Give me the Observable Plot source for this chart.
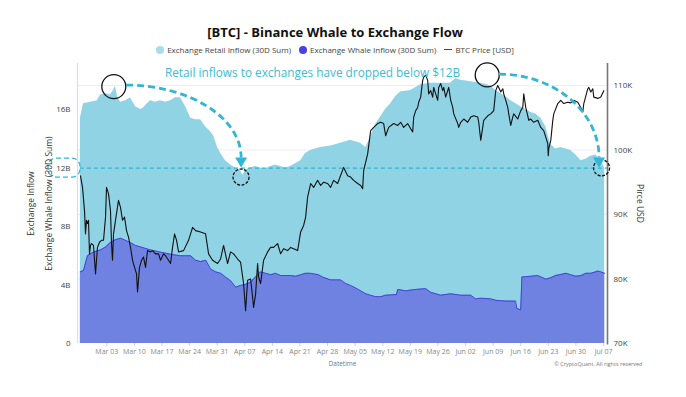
<!DOCTYPE html>
<html>
<head>
<meta charset="utf-8">
<script src="https://cdn.jsdelivr.net/npm/d3@7"></script>
<script src="https://cdn.jsdelivr.net/npm/@observablehq/plot@0.6"></script>
<style>
  html, body { margin: 0; padding: 0; background: #fff; }
  #wrap { width: 686px; height: 397px; overflow: hidden; font-family: "Open Sans", sans-serif; }
  #head { width: 670px; text-align: center; }
  #title { height: 22px; padding-top: 21px; line-height: 22px; font-size: 13px; font-weight: 700; color: #111; }
  #legend { height: 13px; line-height: 13px; font-size: 8px; color: #444; white-space: nowrap; }
  #legend .item { display: inline-block; margin: 0 4px; }
  #legend .dot { display: inline-block; width: 8px; height: 8px; border-radius: 50%; vertical-align: -1px; margin-right: 3px; }
  #legend .ln { display: inline-block; width: 8px; height: 0; border-top: 1.3px solid #444; vertical-align: 3px; margin-right: 3px; }
  svg { display: block; }
</style>
</head>
<body>
<div id="wrap">
  <div id="head">
    <div id="title"></div>
    <div id="legend"></div>
  </div>
  <div id="chart"></div>
</div>
<script>
// ---------- data (time = days since 2025-02-24, inflow in $B, price in $K) ----------
const startDate = "2025-02-24";
const titleText = "[BTC] - Binance Whale to Exchange Flow";
const seriesNames = ["Exchange Retail Inflow (30D Sum)", "Exchange Whale Inflow (30D Sum)", "BTC Price [USD]"];
const annotationText = "Retail inflows to exchanges have dropped below $12B";

const retailInflow = [
  [0.3,15.4],[1.1,16.4],[2.9,16.5],[4.6,16.6],[5.4,17.0],[6.7,17.1],[7.9,17.0],[8.7,17.3],[9.2,17.6],[9.7,16.9],
  [10.5,16.5],[11.8,16.6],[13.0,16.8],[14.3,16.2],[15.6,16.0],[16.3,16.1],[17.3,16.4],[18.1,16.6],[19.4,16.5],[20.6,16.6],
  [21.9,16.5],[23.2,16.6],[24.4,16.8],[25.7,16.8],[27.0,16.2],[28.3,15.4],[29.5,15.3],[30.8,15.3],[32.1,14.8],[33.3,14.5],
  [34.1,14.2],[35.1,13.4],[35.9,13.0],[37.1,12.5],[38.4,12.2],[39.7,12.0],[40.9,11.85],[41.5,11.5],[42.2,11.85],[43.5,12.0],
  [44.7,12.1],[46.0,12.0],[47.3,11.96],[48.6,12.1],[49.8,12.2],[51.1,12.1],[52.4,12.0],[53.6,12.1],[56.2,12.5],[57.4,13.0],
  [58.7,13.2],[61.2,13.4],[63.8,13.5],[66.3,13.7],[68.8,13.9],[71.4,13.7],[72.7,13.4],[73.9,14.1],[75.2,15.0],[76.5,15.5],
  [77.7,16.0],[79.0,16.4],[80.3,16.9],[81.5,17.2],[84.1,17.3],[86.6,17.7],[89.2,17.8],[91.7,17.8],[94.2,17.8],[95.5,18.1],
  [96.8,18.0],[99.3,17.9],[101.8,17.8],[103.6,17.7],[104.4,17.6],[105.7,17.3],[106.9,17.1],[108.2,16.9],[109.5,16.6],[112.0,16.2],
  [113.3,16.0],[114.6,15.8],[115.8,15.7],[117.1,15.4],[118.4,14.8],[119.6,13.6],[120.9,13.3],[122.2,13.4],[123.5,13.3],[124.7,13.2],
  [126.0,12.9],[127.3,12.5],[128.5,12.6],[129.8,12.8],[131.1,12.9],[132.3,12.5],[133.3,12.0]
];

const whaleInflow = [
  [0.3,4.9],[1.1,5.0],[2.1,6.0],[3.6,6.25],[5.4,6.4],[6.7,6.6],[7.9,6.9],[9.2,7.1],[10.5,7.2],[11.8,7.05],
  [13.0,6.9],[14.3,6.7],[15.6,6.6],[18.1,6.4],[20.6,6.25],[23.2,6.1],[25.7,6.0],[28.3,6.0],[29.5,5.7],[30.8,5.6],
  [32.1,5.7],[33.3,5.1],[34.6,4.9],[35.9,4.8],[37.1,4.55],[38.4,4.3],[39.7,3.85],[40.9,3.97],[42.2,4.04],[43.5,4.2],
  [44.7,4.55],[46.0,4.9],[47.3,4.8],[48.6,4.7],[49.8,4.8],[51.1,4.65],[53.6,4.65],[54.9,4.6],[56.2,4.7],[57.4,4.8],
  [58.7,4.8],[60.7,4.7],[61.7,4.55],[63.8,4.35],[66.3,4.35],[67.6,4.1],[68.8,3.97],[70.1,3.8],[71.4,3.6],[72.7,3.4],
  [73.9,3.3],[75.2,3.2],[76.5,3.2],[77.7,3.3],[80.5,3.35],[80.8,3.7],[82.8,3.6],[85.4,3.7],[87.9,3.75],[89.2,3.5],
  [91.7,3.3],[94.2,3.4],[96.8,3.3],[99.3,3.3],[100.6,3.05],[101.8,3.1],[104.4,3.05],[105.7,2.95],[108.2,2.9],[110.7,2.9],
  [111.0,2.4],[112.0,2.3],[112.3,4.55],[114.6,4.6],[116.3,4.65],[118.4,4.4],[119.6,4.5],[120.9,4.65],[123.5,4.8],[124.7,4.7],
  [126.0,4.6],[127.3,4.65],[128.5,4.8],[129.8,4.8],[131.6,4.95],[132.3,4.9],[133.3,4.8]
];

const btcPrice = [
  [0.33,96.0],[0.84,94.2],[1.35,90.6],[1.60,87.0],[1.85,89.1],[2.11,88.6],[2.36,89.1],[2.61,83.9],[2.87,85.2],[3.12,85.5],
  [3.63,85.2],[4.14,80.8],[4.39,82.9],[4.64,84.9],[5.15,85.7],[5.66,86.0],[6.17,86.0],[6.68,89.6],[6.93,94.2],[7.44,93.2],
  [7.94,90.6],[8.20,85.5],[8.45,82.9],[8.71,87.0],[9.21,89.1],[9.97,92.2],[10.48,91.1],[10.99,89.1],[11.50,89.6],[12.01,87.5],
  [12.51,86.5],[13.02,84.9],[13.53,82.9],[14.04,81.8],[14.54,80.8],[14.80,78.0],[15.30,81.8],[15.81,82.9],[16.32,83.4],[16.83,81.8],
  [17.34,84.4],[18.10,84.2],[18.60,84.4],[19.37,83.9],[20.13,83.9],[20.63,82.9],[21.40,83.9],[21.90,83.6],[22.66,82.9],[23.17,82.4],
  [23.68,84.9],[24.19,87.0],[24.70,86.0],[25.20,84.2],[26.47,84.4],[27.74,86.0],[28.76,88.0],[29.52,87.5],[30.79,87.3],[32.06,87.0],
  [32.82,83.9],[33.83,82.9],[35.10,82.4],[35.86,83.1],[36.62,85.2],[37.64,82.4],[38.40,84.2],[39.16,83.9],[40.18,83.1],[40.94,82.6],
  [41.70,79.3],[42.21,75.1],[42.72,79.8],[43.48,80.0],[43.98,77.2],[44.24,75.6],[44.75,77.7],[45.25,82.4],[45.51,80.3],[46.02,79.3],
  [46.78,82.9],[47.79,84.2],[48.55,84.9],[49.31,84.9],[50.33,85.5],[51.09,83.9],[51.85,84.7],[52.87,84.4],[53.63,84.9],[54.39,84.7],
  [55.41,84.4],[56.17,87.3],[56.93,88.3],[57.44,89.6],[57.94,92.7],[58.71,94.8],[59.47,94.2],[60.48,95.3],[61.24,94.5],[62.01,95.0],
  [63.02,94.8],[63.78,94.2],[64.54,95.3],[65.56,94.8],[67.08,97.3],[68.10,96.0],[68.86,95.8],[69.62,95.3],[70.64,94.8],[71.40,94.5],
  [71.90,94.0],[72.16,96.8],[73.17,99.4],[73.93,103.0],[74.70,103.5],[75.71,104.1],[76.47,104.3],[77.23,104.1],[77.74,102.2],[78.50,103.5],
  [79.77,104.1],[80.79,103.8],[81.55,104.3],[82.31,103.5],[83.32,104.1],[84.09,103.3],[84.59,102.8],[84.85,105.1],[85.36,106.1],[85.86,106.6],
  [86.12,107.4],[86.62,108.2],[87.13,110.8],[87.39,111.3],[87.89,111.6],[88.40,110.8],[88.65,108.7],[89.16,109.2],[89.67,108.2],[89.92,109.7],
  [90.94,107.7],[91.19,109.7],[91.70,110.3],[92.21,109.2],[92.46,109.7],[92.97,108.2],[93.48,109.2],[93.73,109.7],[94.24,107.7],[94.75,106.6],
  [95.00,105.6],[96.02,104.1],[96.27,103.5],[96.78,104.3],[97.54,104.8],[98.55,104.3],[99.31,105.1],[100.08,105.3],[101.09,105.1],[101.35,104.3],
  [101.85,101.5],[102.36,103.5],[102.61,104.6],[103.63,105.3],[104.39,105.6],[105.15,106.1],[105.66,109.2],[106.17,110.0],[106.42,109.7],[106.93,109.0],
  [107.44,109.5],[107.69,108.7],[108.20,107.7],[108.71,106.6],[108.96,105.6],[109.47,103.8],[109.97,105.1],[110.23,105.6],[111.24,104.8],[112.01,106.1],
  [112.51,106.6],[112.77,108.7],[113.27,106.6],[113.78,105.3],[114.04,104.6],[114.54,104.8],[115.30,104.3],[116.32,104.6],[117.08,103.5],[117.84,103.0],
  [118.35,102.0],[118.86,101.0],[118.98,99.1],[119.11,100.2],[119.62,101.5],[120.13,104.6],[120.38,105.6],[121.40,107.2],[122.16,107.7],[122.92,107.2],
  [123.93,107.4],[124.70,107.3],[125.46,107.7],[126.47,107.4],[127.23,106.6],[127.74,105.9],[128.00,107.2],[129.01,109.5],[129.27,109.7],[129.77,109.0],
  [130.28,109.5],[130.53,108.2],[131.55,108.0],[132.31,108.2],[133.07,109.2]
];

// tick values / labels
const xTicks = ["2025-03-03","2025-03-10","2025-03-17","2025-03-24","2025-03-31","2025-04-07","2025-04-14","2025-04-21","2025-04-28","2025-05-05","2025-05-12","2025-05-19","2025-05-26","2025-06-02","2025-06-09","2025-06-16","2025-06-23","2025-06-30","2025-07-07"];
const inflowTicks = [0, 4, 8, 12, 16];
const inflowTickLabels = ["0", "4B", "8B", "12B", "16B"];
const priceTicks = [70, 80, 90, 100, 110];
const priceTickLabels = ["70K", "80K", "90K", "100K", "110K"];
const threshold = 12;

// annotation anchors (day, $B)
const bigCircles = [[8.78, 17.57], [103.5, 18.37]];
const smallCircles = [[41.05, 11.38], [132.5, 12.01]];
const arrows = [
  {from: [12.0, 17.64], to: [41.2, 12.0]},
  {from: [106.6, 18.39], to: [132.0, 12.0]}
];

// ---------- helpers ----------
const t0 = Date.parse(startDate + "T00:00:00Z");
const toDate = t => new Date(t0 + t * 864e5);
const xDomain = [toDate(-0.43), toDate(134.01)];
const inflowMax = 19.15;
const priceMin = 70, priceMax = 113.41;
const priceToY = p => (p - priceMin) / (priceMax - priceMin) * inflowMax;

const cyan = "#2fb7d4";

// header
document.getElementById("title").textContent = titleText;
const legendColors = ["#a9dcec", "#4a3fe0"];
document.getElementById("legend").innerHTML =
  `<span class="item"><span class="dot" style="background:${legendColors[0]}"></span>${seriesNames[0]}</span>` +
  `<span class="item"><span class="dot" style="background:${legendColors[1]}"></span>${seriesNames[1]}</span>` +
  `<span class="item"><span class="ln"></span>${seriesNames[2]}</span>`;

// annotation render (curved dashed arrows + rounded box around 12B label)
function annotations(index, scales, values, dimensions) {
  const sx = scales.x, sy = scales.y;
  const g = d3.create("svg:g");
  const yT = sy(threshold);
  g.append("rect")
    .attr("x", dimensions.marginLeft - 29).attr("y", yT - 9.5)
    .attr("width", 32).attr("height", 19).attr("rx", 8)
    .attr("fill", "#fff").attr("fill-opacity", 0).attr("stroke", cyan).attr("stroke-width", 1.3)
    .attr("stroke-dasharray", "5,3");
  for (const a of arrows) {
    const x0 = sx(toDate(a.from[0])), y0 = sy(a.from[1]);
    const x1 = sx(toDate(a.to[0])), y1 = sy(a.to[1]);
    const yEnd = y1 - 10;
    const k = 0.55;
    g.append("path")
      .attr("d", `M${x0},${y0} C${x0 + k * (x1 - x0)},${y0} ${x1},${yEnd - k * (yEnd - y0)} ${x1},${yEnd}`)
      .attr("fill", "none").attr("stroke", cyan).attr("stroke-width", 2.8)
      .attr("stroke-dasharray", "7,4");
    g.append("path")
      .attr("d", `M${x1 - 6},${y1 - 10} L${x1 + 6},${y1 - 10} L${x1},${y1} Z`)
      .attr("fill", cyan);
  }
  return g.node();
}

const chart = Plot.plot({
  width: 686,
  height: 341,
  marginTop: 7,
  marginBottom: 54,
  marginLeft: 77,
  marginRight: 79,
  style: {fontFamily: "Open Sans, sans-serif", background: "#fff", overflow: "visible"},
  x: {type: "utc", domain: xDomain},
  y: {domain: [0, inflowMax]},
  marks: [
    Plot.ruleY(priceTicks.slice(1).map(priceToY), {stroke: "#eeeeee"}),
    Plot.areaY(retailInflow, {x: d => toDate(d[0]), y: d => d[1], fill: "#8fd3e5"}),
    Plot.areaY(whaleInflow, {x: d => toDate(d[0]), y: d => d[1], fill: "#6f82e2"}),
    Plot.lineY(whaleInflow, {x: d => toDate(d[0]), y: d => d[1], stroke: "#4444d6", strokeWidth: 1}),
    Plot.ruleY([threshold], {x1: toDate(0.3), x2: xDomain[1], stroke: cyan, strokeWidth: 1.2, strokeDasharray: "4,3"}),
    Plot.lineY(btcPrice, {x: d => toDate(d[0]), y: d => priceToY(d[1]), stroke: "#111", strokeWidth: 1.1}),
    Plot.ruleX([xDomain[0]], {stroke: "#dddddd", strokeWidth: 1.2}),
    Plot.ruleX([xDomain[1]], {y1: -0.1, y2: inflowMax, stroke: "#777", strokeWidth: 1.6}),
    Plot.dot(bigCircles, {x: d => toDate(d[0]), y: d => d[1], r: 12, stroke: "#111", strokeWidth: 1.3, fill: "none"}),
    Plot.dot(smallCircles, {x: d => toDate(d[0]), y: d => d[1], r: 8, stroke: "#111", strokeWidth: 1.3, fill: "none", strokeDasharray: "3,1.5"}),
    annotations,
    Plot.axisX({ticks: xTicks.map(d => new Date(d + "T00:00:00Z")), tickFormat: d3.utcFormat("%b %d"),
      tickSize: 3, tickPadding: 3, stroke: "#d0d0d0", fill: "#888", fontSize: 7, label: null}),
    Plot.axisY({ticks: inflowTicks, tickFormat: d => inflowTickLabels[inflowTicks.indexOf(d)], anchor: "left",
      tickSize: 0, tickPadding: 7, fill: "#444", fontSize: 8, label: null}),
    Plot.axisY({ticks: priceTicks.map(priceToY),
      tickFormat: d => priceTickLabels[priceTicks.findIndex(p => Math.abs(priceToY(p) - d) < 1e-6)],
      anchor: "right", tickSize: 0, tickPadding: 6, fill: "#444", fontSize: 8, label: null}),
    Plot.text(["Exchange Inflow"], {frameAnchor: "left", textAnchor: "middle", dx: -46, rotate: -90, fontSize: 8.5, fill: "#333"}),
    Plot.text(["Exchange Whale Inflow (30D Sum)"], {frameAnchor: "left", textAnchor: "middle", dx: -28, rotate: -90, fontSize: 8.5, fill: "#333"}),
    Plot.text(["Pirce USD"], {frameAnchor: "right", textAnchor: "middle", dx: 32, rotate: 90, fontSize: 8.5, fill: "#333"}),
    Plot.text(["Datetime"], {frameAnchor: "bottom", dy: 22, fontSize: 6.5, fill: "#777"}),
    Plot.text(["© CryptoQuant. All rights reserved"], {frameAnchor: "bottom-right", dx: 35, dy: 22, textAnchor: "end", fontSize: 5.5, fill: "#777"}),
    Plot.text([annotationText], {frameAnchor: "top", dx: -30, dy: 5, fontSize: 11.8, fill: "#3bbdd6", fontWeight: 500})
  ]
});
document.getElementById("chart").appendChild(chart);
</script>
</body>
</html>
